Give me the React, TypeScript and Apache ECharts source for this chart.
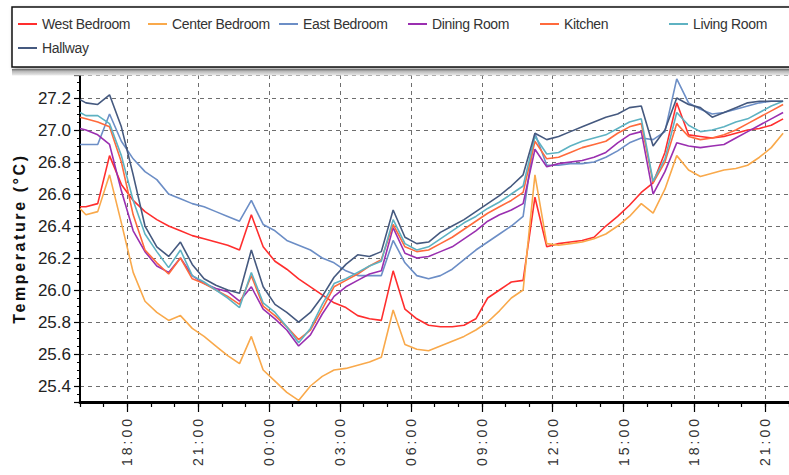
import React, { useEffect, useRef } from 'react';
import * as echarts from 'echarts';

// Sample times (clock time, day 1 16:00 through day 2 21:45)
const times = [
  '16:00', '16:15', '16:45', '17:15', '17:45', '18:15', '18:45', '19:15', '19:45', '20:15',
  '20:45', '21:15', '21:45', '22:15', '22:45', '23:15', '23:45', '00:15', '00:45', '01:15',
  '01:45', '02:15', '02:45', '03:15', '03:45', '04:15', '04:45', '05:15', '05:45', '06:15',
  '06:45', '07:15', '07:45', '08:15', '08:45', '09:15', '09:45', '10:15', '10:45', '11:15',
  '11:45', '12:15', '12:45', '13:15', '13:45', '14:15', '14:45', '15:15', '15:45', '16:15',
  '16:45', '17:15', '17:45', '18:15', '18:45', '19:15', '19:45', '20:15', '20:45', '21:15',
  '21:45',
];

const westBedroom = [
  26.52, 26.52, 26.54, 26.84, 26.66, 26.56, 26.49, 26.44, 26.40, 26.37,
  26.34, 26.32, 26.30, 26.28, 26.25, 26.47, 26.27, 26.18, 26.13, 26.07,
  26.02, 25.97, 25.92, 25.89, 25.84, 25.82, 25.81, 26.12, 25.88, 25.82,
  25.78, 25.77, 25.77, 25.78, 25.82, 25.95, 26.00, 26.05, 26.06, 26.58,
  26.27, 26.29, 26.30, 26.31, 26.33, 26.40, 26.46, 26.53, 26.61, 26.67,
  26.86, 27.17, 26.97, 26.96, 26.95, 26.96, 26.98, 27.00, 27.01, 27.03,
  27.07,
];
const centerBedroom = [
  26.51, 26.47, 26.49, 26.72, 26.42, 26.11, 25.93, 25.86, 25.81, 25.84,
  25.76, 25.71, 25.65, 25.59, 25.54, 25.71, 25.50, 25.43, 25.36, 25.31,
  25.40, 25.46, 25.50, 25.51, 25.53, 25.55, 25.58, 25.875, 25.66, 25.63,
  25.62, 25.65, 25.68, 25.71, 25.75, 25.80, 25.87, 25.95, 26.00, 26.72,
  26.29, 26.28, 26.29, 26.30, 26.32, 26.35, 26.40, 26.46, 26.54, 26.48,
  26.63, 26.84, 26.75, 26.71, 26.73, 26.75, 26.76, 26.78, 26.83, 26.89,
  26.98,
];
const eastBedroom = [
  26.91, 26.91, 26.91, 27.10, 26.93, 26.82, 26.74, 26.69, 26.60, 26.57,
  26.54, 26.52, 26.49, 26.46, 26.43, 26.56, 26.41, 26.37, 26.31, 26.28,
  26.25, 26.20, 26.17, 26.12, 26.09, 26.09, 26.09, 26.31, 26.17, 26.09,
  26.07, 26.09, 26.13, 26.19, 26.25, 26.30, 26.35, 26.40, 26.46, 26.98,
  26.78, 26.78, 26.79, 26.79, 26.80, 26.83, 26.87, 26.92, 26.95, 26.94,
  26.99, 27.32, 27.17, 27.13, 27.10, 27.11, 27.13, 27.15, 27.17, 27.18,
  27.18,
];
const diningRoom = [
  27.01, 27.00, 26.97, 26.91, 26.62, 26.37, 26.24, 26.15, 26.11, 26.20,
  26.09, 26.04, 26.01, 25.99, 25.93, 26.02, 25.88, 25.82, 25.75, 25.65,
  25.72, 25.85, 25.96, 26.02, 26.06, 26.10, 26.12, 26.39, 26.23, 26.20,
  26.21, 26.24, 26.27, 26.32, 26.37, 26.43, 26.47, 26.50, 26.54, 26.88,
  26.77, 26.79, 26.80, 26.81, 26.83, 26.86, 26.92, 26.97, 26.99, 26.60,
  26.74, 26.92, 26.90, 26.89, 26.90, 26.91, 26.95, 26.99, 27.03, 27.07,
  27.11,
];
const kitchen = [
  27.08, 27.07, 27.05, 27.02, 26.80, 26.47, 26.25, 26.17, 26.10, 26.20,
  26.07, 26.04, 26.00, 25.96, 25.91, 26.09, 25.90, 25.84, 25.77, 25.69,
  25.75, 25.88, 26.02, 26.06, 26.10, 26.15, 26.19, 26.41, 26.27, 26.24,
  26.25, 26.29, 26.33, 26.38, 26.43, 26.48, 26.52, 26.56, 26.61, 26.93,
  26.82, 26.83, 26.86, 26.89, 26.91, 26.93, 26.98, 27.02, 27.04, 26.67,
  26.80, 27.04, 26.96, 26.94, 26.95, 26.97, 27.00, 27.04, 27.08, 27.12,
  27.16,
];
const livingRoom = [
  27.11, 27.09, 27.09, 27.04, 26.84, 26.56, 26.35, 26.24, 26.14, 26.25,
  26.09, 26.05, 26.00, 25.95, 25.89, 26.11, 25.92, 25.86, 25.77, 25.67,
  25.76, 25.91, 26.04, 26.07, 26.11, 26.15, 26.18, 26.44, 26.29, 26.25,
  26.27, 26.32, 26.37, 26.42, 26.46, 26.51, 26.55, 26.60, 26.65, 26.96,
  26.85, 26.86, 26.90, 26.93, 26.95, 26.97, 27.01, 27.05, 27.07, 26.68,
  26.82, 27.11, 27.03, 26.99, 27.00, 27.02, 27.05, 27.07, 27.11, 27.15,
  27.18,
];
const hallway = [
  27.19, 27.17, 27.16, 27.22, 27.02, 26.72, 26.40, 26.27, 26.21, 26.30,
  26.16, 26.07, 26.03, 26.00, 25.98, 26.25, 26.02, 25.91, 25.86, 25.80,
  25.86, 25.96, 26.08, 26.16, 26.22, 26.21, 26.24, 26.50, 26.33, 26.29,
  26.30, 26.36, 26.40, 26.44, 26.49, 26.54, 26.59, 26.65, 26.72, 26.98,
  26.94, 26.96, 26.99, 27.02, 27.05, 27.08, 27.10, 27.14, 27.15, 26.90,
  27.00, 27.20, 27.16, 27.14, 27.08, 27.11, 27.14, 27.17, 27.18, 27.18,
  27.18,
];

const seriesNames = [
  'West Bedroom', 'Center Bedroom', 'East Bedroom', 'Dining Room', 'Kitchen', 'Living Room', 'Hallway',
];
const seriesValues = [westBedroom, centerBedroom, eastBedroom, diningRoom, kitchen, livingRoom, hallway];
const seriesColors = ['#FF2E2E', '#F9A94B', '#6C8EC6', '#9A2FB0', '#FF6A3C', '#5EB2C2', '#45597F'];

const xTickLabels = ['18:00', '21:00', '00:00', '03:00', '06:00', '09:00', '12:00', '15:00', '18:00', '21:00'];
const axisStart = '16:00';
const axisEnd = '22:00';
const yMin = 25.3;
const yMax = 27.344;
const yTitle = 'Temperature (°C)';

// convert clock strings to continuous hours (with day roll-over)
function toHours(list: string[]): number[] {
  const out: number[] = [];
  let offset = 0;
  let prev = -1;
  for (const s of list) {
    const [h, m] = s.split(':').map(Number);
    let v = h + m / 60;
    if (v + offset < prev) offset += 24;
    v += offset;
    out.push(v);
    prev = v;
  }
  return out;
}

const xHours = toHours(times);
const majorHours = toHours([axisStart, ...xTickLabels]).slice(1);
const [xMin] = toHours([axisStart]);
const xMax = toHours([axisStart, ...xTickLabels, axisEnd]).slice(-1)[0];
const minorHours: number[] = [];
for (let h = Math.ceil(xMin); h <= xMax; h++) minorHours.push(h);

const legendPos = [
  [18, 17], [148, 17], [279, 17], [408, 17], [540, 17], [669, 17], [18, 41],
];

export default function App() {
  const ref = useRef<HTMLDivElement>(null);
  useEffect(() => {
    document.body.style.margin = '0';
    if (!ref.current) return;
    const chart = echarts.init(ref.current, undefined, { renderer: 'svg' });
    const option: any = {
      animation: false,
      backgroundColor: '#ffffff',
      textStyle: { fontFamily: "'Liberation Sans', Arial, sans-serif" },
      graphic: [
        {
          type: 'rect',
          z: 0,
          shape: { x: 12, y: 7, width: 800, height: 60 },
          style: {
            fill: '#ffffff',
            stroke: '#111111',
            lineWidth: 1.5,
            shadowBlur: 4,
            shadowOffsetX: 2,
            shadowOffsetY: 2,
            shadowColor: 'rgba(0,0,0,0.35)',
          },
        },
        {
          type: 'rect',
          z: 50,
          shape: { x: 12, y: 69, width: 800, height: 6.5 },
          style: {
            fill: new echarts.graphic.LinearGradient(0, 0, 0, 1, [
              { offset: 0, color: '#6a6a6a' },
              { offset: 0.35, color: '#b8b8b8' },
              { offset: 1, color: '#ececec' },
            ]),
          },
        },
      ],
      legend: seriesNames.map((n, i) => ({
        data: [n],
        left: legendPos[i][0],
        top: legendPos[i][1],
        padding: 0,
        icon: 'rect',
        itemWidth: 19,
        itemHeight: 2,
        selectedMode: false,
        z: 10,
        textStyle: {
          color: '#333333',
          fontSize: 14,
          fontFamily: "'Liberation Sans', Arial, sans-serif",
        },
      })),
      grid: { left: 80, top: 75, width: 720, height: 327, containLabel: false },
      xAxis: [
        {
          type: 'value',
          min: xMin,
          max: xMax,
          position: 'bottom',
          axisLine: { show: true, lineStyle: { color: '#000000', width: 3 } },
          axisTick: { show: true, customValues: majorHours, length: 10, lineStyle: { color: '#000', width: 1.2 } },
          axisLabel: {
            show: true,
            customValues: majorHours,
            rotate: 90,
            margin: 14,
            fontSize: 14,
            color: '#333333',
            fontFamily: "'Liberation Sans', Arial, sans-serif",
            formatter: (v: number) => {
              const i = majorHours.findIndex((h) => Math.abs(h - v) < 1e-6);
              return i >= 0 ? xTickLabels[i] : '';
            },
          },
          splitLine: { show: true, lineStyle: { color: '#6e6e6e', type: [4, 4], width: 1 } },
        },
        {
          type: 'value',
          min: xMin,
          max: xMax,
          position: 'bottom',
          axisLine: { show: false },
          axisTick: { show: true, customValues: minorHours, length: 5, lineStyle: { color: '#000', width: 1.2 } },
          axisLabel: { show: false },
          splitLine: { show: false },
        },
      ],
      yAxis: {
        type: 'value',
        min: yMin,
        max: yMax,
        splitNumber: 10,
        name: yTitle,
        nameLocation: 'middle',
        nameRotate: 90,
        nameGap: 50,
        nameTextStyle: {
          fontSize: 16,
          fontWeight: 'bold',
          color: '#111111',
          fontFamily: "'Liberation Sans', Arial, sans-serif",
        },
        axisLine: { show: true, lineStyle: { color: '#000000', width: 2 } },
        axisTick: { show: true, length: 6, lineStyle: { color: '#000', width: 1.2 } },
        minorTick: { show: true, splitNumber: 4, length: 3, lineStyle: { color: '#000', width: 1 } },
        axisLabel: {
          showMinLabel: false,
          showMaxLabel: false,
          margin: 9,
          fontSize: 17,
          color: '#222222',
          fontFamily: "'Liberation Sans', Arial, sans-serif",
          formatter: (v: number) => v.toFixed(1),
        },
        splitLine: { show: true, lineStyle: { color: '#6e6e6e', type: [4, 4], width: 1 } },
      },
      series: seriesNames.map((n, i) => ({
        name: n,
        type: 'line',
        xAxisIndex: 0,
        showSymbol: false,
        symbol: 'none',
        clip: true,
        color: seriesColors[i],
        lineStyle: { color: seriesColors[i], width: 1.6 },
        data: xHours.map((x, j) => [x, seriesValues[i][j]]),
      })),
    };
    chart.setOption(option);
    const svg = ref.current.querySelector('svg');
    if (svg) {
      svg.querySelectorAll('text').forEach((t) => {
        const s = t.textContent || '';
        if (/^\d\d:\d\d$/.test(s)) t.setAttribute('letter-spacing', '3');
        if (s === yTitle) t.setAttribute('letter-spacing', '2.6');
        if (seriesNames.includes(s)) t.setAttribute('letter-spacing', '-0.35');
      });
    }
    return () => chart.dispose();
  }, []);
  return <div ref={ref} style={{ width: 789, height: 475 }} />;
}
